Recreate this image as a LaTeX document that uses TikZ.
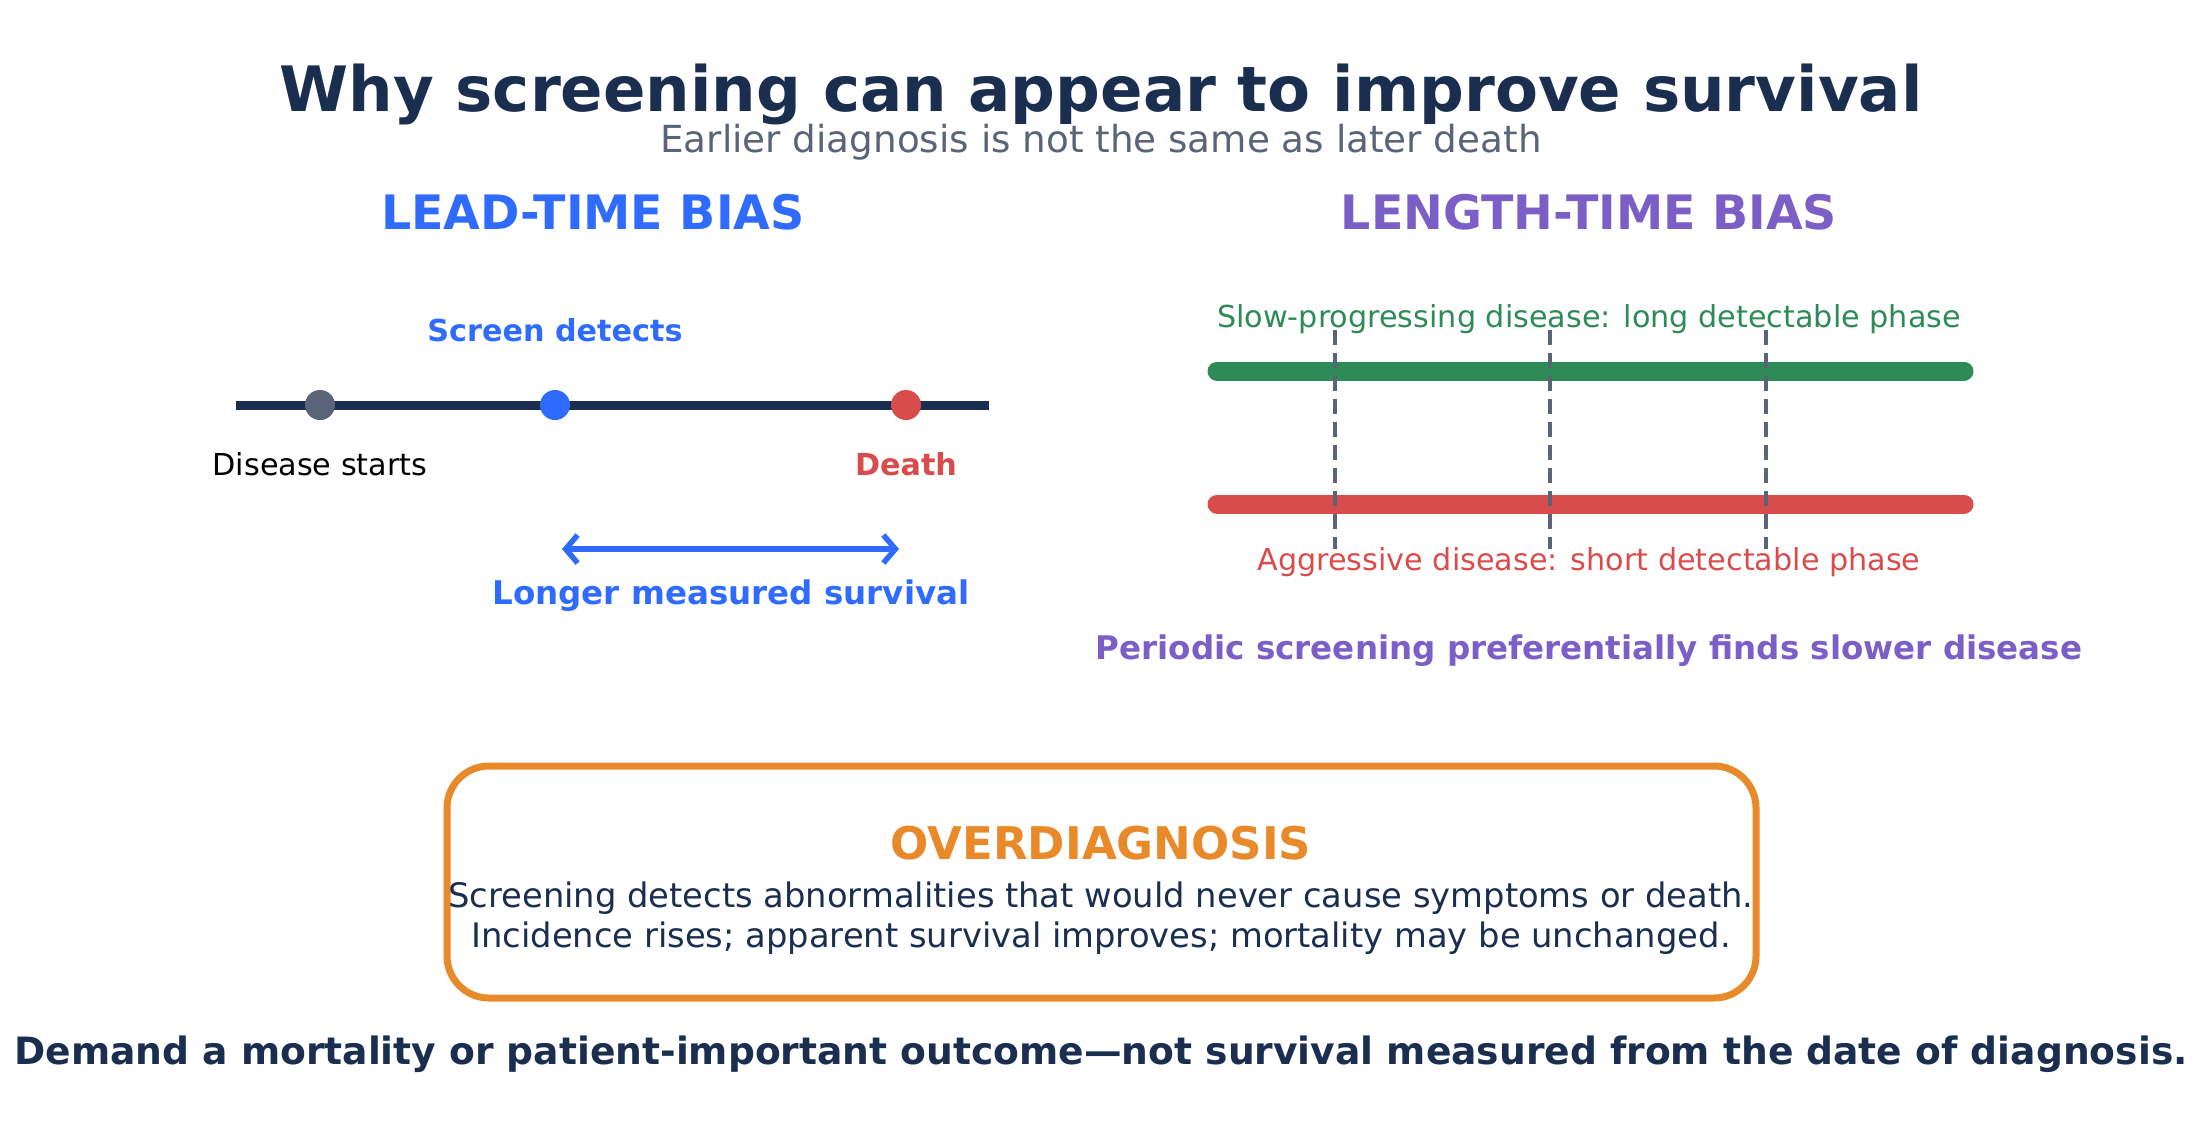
\documentclass[tikz,border=0pt]{standalone}
\usepackage{fontspec}
\setmainfont{DejaVu Sans}
\usetikzlibrary{arrows.meta}
\definecolor{navy}{HTML}{1A2E50}
\definecolor{slate}{HTML}{5A6478}
\definecolor{leadblue}{HTML}{2F6BFF}
\definecolor{lenpurple}{HTML}{7B5EC6}
\definecolor{slowgreen}{HTML}{2E8B57}
\definecolor{fastred}{HTML}{D94C4C}
\definecolor{overorange}{HTML}{E8892A}
\begin{document}
\begin{tikzpicture}[x=0.01cm,y=-0.01cm,
  heading/.style={font=\fontsize{13.5}{16}\selectfont\bfseries},
  label/.style={font=\fontsize{8.6}{10}\selectfont},
  boldlabel/.style={font=\fontsize{8.6}{10}\selectfont\bfseries},
  dot/.style={circle,inner sep=0pt,minimum size=0.3cm},
  bar/.style={line width=0.19cm,line cap=round}]
\useasboundingbox (0,0) rectangle (2203,1144);
\node[font=\fontsize{17.8}{21}\selectfont\bfseries,text=navy] (title) at (1101,94) {Why screening can appear to improve survival};
\node[font=\fontsize{10.6}{12}\selectfont,text=slate] (subtitle) at (1101,142) {Earlier diagnosis is not the same as later death};

% lead-time bias
\node[heading,text=leadblue] (leadhead) at (593,212) {LEAD-TIME BIAS};
\coordinate (tl) at (236,405);
\coordinate (tr) at (989,405);
\draw[navy,line width=0.09cm] (tl) -- (tr);
\node[dot,fill=slate] (start) at (320,405) {};
\node[dot,fill=leadblue] (detect) at (555,405) {};
\node[dot,fill=fastred] (death) at (906,405) {};
\node[boldlabel,text=leadblue] (detectlbl) at (555,330) {Screen detects};
\node[label,text=black] (startlbl) at (320,464) {Disease starts};
\node[boldlabel,text=fastred] (deathlbl) at (906,464) {Death};
\coordinate (sa) at (562,549);
\coordinate (sb) at (899,549);
\draw[leadblue,line width=0.055cm,line cap=round,{Straight Barb[length=0.12cm,width=0.28cm]}-{Straight Barb[length=0.12cm,width=0.28cm]}] (sa) -- (sb);
\node[boldlabel,font=\fontsize{9.25}{11}\selectfont\bfseries,text=leadblue] (survlbl) at (731,596) {Longer measured survival};

% length-time bias
\node[heading,text=lenpurple] (lenhead) at (1589,212) {LENGTH-TIME BIAS};
\node[label,text=slowgreen] (slowlbl) at (1589,319) {Slow-progressing disease: long detectable phase};
\coordinate (gl) at (1217,371);
\coordinate (gr) at (1964,371);
\coordinate (rl) at (1217,504);
\coordinate (rr) at (1964,504);
\draw[bar,slowgreen] (gl) -- (gr);
\draw[bar,fastred] (rl) -- (rr);
\foreach \x/\n in {1335/a,1550/b,1766/c}{
  \coordinate (top\n) at (\x,330);
  \coordinate (bot\n) at (\x,549);
  \draw[slate,line width=0.038cm,dash pattern=on 0.15cm off 0.08cm] (top\n) -- (bot\n);
}
\node[label,text=fastred] (fastlbl) at (1589,562) {Aggressive disease: short detectable phase};
\node[font=\fontsize{9.25}{11}\selectfont\bfseries,text=lenpurple] (periodic) at (1589,651) {Periodic screening preferentially finds slower disease};

% overdiagnosis
\draw[overorange,line width=0.07cm,rounded corners=0.42cm] (447,766) rectangle (1756,998);
\node[font=\fontsize{12.8}{15}\selectfont\bfseries,text=overorange] (overhead) at (1101,843) {OVERDIAGNOSIS};
\node[font=\fontsize{9.6}{11.2}\selectfont,text=navy,align=center] (overtext) at (1101,918) {Screening detects abnormalities that would never cause symptoms or death.\\Incidence rises; apparent survival improves; mortality may be unchanged.};
\node[font=\fontsize{10.7}{12}\selectfont\bfseries,text=navy] (bottom) at (1101,1054) {Demand a mortality or patient-important outcome—not survival measured from the date of diagnosis.};
\end{tikzpicture}
\end{document}
